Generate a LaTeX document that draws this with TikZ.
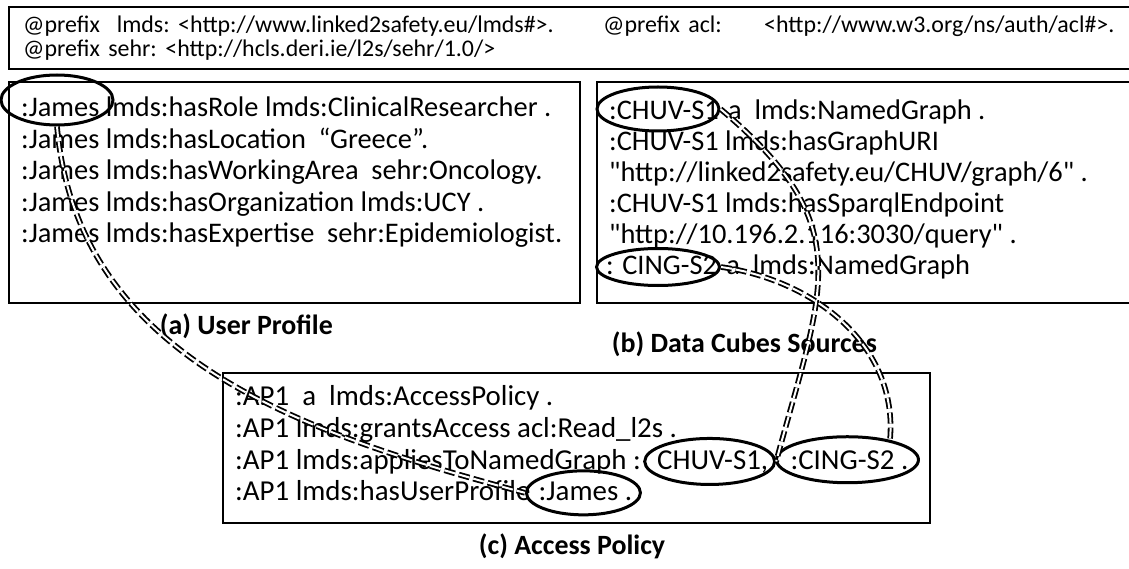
\documentclass[tikz,border=0pt]{standalone}
\usepackage{fontspec}
\newfontfamily\cf{Carlito}
\newcommand\hgap{\hspace{8.5bp}}
\usetikzlibrary{shapes.geometric}
\begin{document}
\begin{tikzpicture}[x=1bp,y=1bp,
  boxline/.style={draw, line width=2.8bp},
  txt/.style={anchor=base west, inner sep=0, font=\cf\fontsize{28.5}{28.5}\selectfont},
  txtc/.style={anchor=base west, inner sep=0, font=\cf\fontsize{29}{29}\selectfont},
  hdr/.style={anchor=base west, inner sep=0, font=\cf\fontsize{24}{24}\selectfont},
  lbl/.style={inner sep=0, font=\cf\bfseries\fontsize{28}{28}\selectfont},
  oval/.style={draw, ellipse, line width=3bp, inner sep=0},
  conn/.style={draw=black, double=white, double distance=2bp, line width=1.8bp, dash pattern=on 11bp off 4bp}]
\useasboundingbox (0,0) rectangle (1129,-569);
% header
\node[hdr] (h1) at (23,-33) {@prefix\hgap\hgap lmds:\hgap<http://www.linked2safety.eu/lmds\#>.};
\node[hdr] (h2) at (603,-33) {@prefix\hgap acl:};
\node[hdr] (h3) at (764,-33) {<http://www.w3.org/ns/auth/acl\#>.};
\node[hdr] (h4) at (23,-57) {@prefix\hgap sehr:\hgap<http://hcls.deri.ie/l2s/sehr/1.0/>};
% box A
\node[txt] (a1a) at (21,-117) {:James};
\node[txt] (a1b) at ([xshift=6bp]a1a.base east) {lmds:hasRole lmds:ClinicalResearcher .};
\node[txt] (a2) at (21,-148.5) {:James lmds:hasLocation\ \ “Greece”.};
\node[txt] (a3) at (21,-180) {:James lmds:hasWorkingArea\ \ sehr:Oncology.};
\node[txt] (a4) at (21,-211.5) {:James lmds:hasOrganization lmds:UCY .};
\node[txt] (a5) at (21,-243) {:James lmds:hasExpertise\ \ sehr:Epidemiologist.};
% box B
\node[txt] (b1a) at (609,-120) {:CHUV-S1};
\node[txt] (b1b) at ([xshift=9bp]b1a.base east) {a\ \ lmds:NamedGraph .};
\node[txt] (b2) at (609,-151) {:CHUV-S1 lmds:hasGraphURI};
\node[txt] (b3) at (609,-182) {"http://linked2safety.eu/CHUV/graph/6" .};
\node[txt] (b4) at (609,-213) {:CHUV-S1 lmds:hasSparqlEndpoint};
\node[txt] (b5) at (609,-244) {"http://10.196.2.116:3030/query" .};
\node[txt] (b6a) at (606,-275) {: CING-S2};
\node[txt] (b6b) at ([xshift=9bp]b6a.base east) {a\ \ lmds:NamedGraph};
% box C
\node[txtc] (c1) at (235,-405) {:AP1\ \ a\ \ lmds:AccessPolicy .};
\node[txtc] (c2) at (235,-437) {:AP1 lmds:grantsAccess acl:Read\_l2s .};
\node[txtc] (c3a) at (235,-469) {:AP1 lmds:appliesToNamedGraph :};
\node[txtc] (c3b) at ([xshift=16bp]c3a.base east) {CHUV-S1,};
\node[txtc] (c3c) at ([xshift=22bp]c3b.base east) {:CING-S2 .};
\node[txtc] (c4a) at (235,-500) {:AP1 lmds:hasUserProfile};
\node[txtc] (c4b) at ([xshift=8bp]c4a.base east) {:James .};
% ellipses
\node[oval, minimum width=112bp, minimum height=50bp] (jamesA) at (57,-100) {};
\node[oval, minimum width=122bp, minimum height=44bp] (chuvB) at (658,-109) {};
\node[oval, minimum width=123bp, minimum height=37bp] (cingB) at (658,-267) {};
\node[oval, minimum width=130bp, minimum height=46bp] (chuvC) at ([xshift=-3bp]c3b.center) {};
\node[oval, minimum width=142bp, minimum height=46bp] (cingC) at ([xshift=-2bp]c3c.center) {};
\node[oval, minimum width=114bp, minimum height=44bp] (jamesC) at ([xshift=-2bp,yshift=-2bp]c4b.center) {};
% boxes
\draw[boxline] (9,-7) rectangle (1150,-69);
\draw[boxline] (9,-82) rectangle (580,-303);
\draw[boxline] (597,-82) rectangle (1150,-303);
\coordinate (cR) at ([xshift=10bp]cingC.east);
\draw[boxline] (223,-373) rectangle (cR |- 0,-523);
% labels
\node[lbl, anchor=base east] (la) at (333,-335) {(a) User Profile};
\node[lbl, anchor=base east] (lb) at (877,-352) {(b) Data Cubes Sources};
\node[lbl, anchor=base] (lc) at (572,-554) {(c) Access Policy};
% connectors
\draw[conn] (jamesA.south) to[out=-85, in=165] (jamesC.west);
\draw[conn] (chuvB.east) to[out=-40, in=75, looseness=1.3] (chuvC.east);
\draw[conn] (cingB.east) to[out=-8, in=85] (cingC.25);
\end{tikzpicture}
\end{document}
